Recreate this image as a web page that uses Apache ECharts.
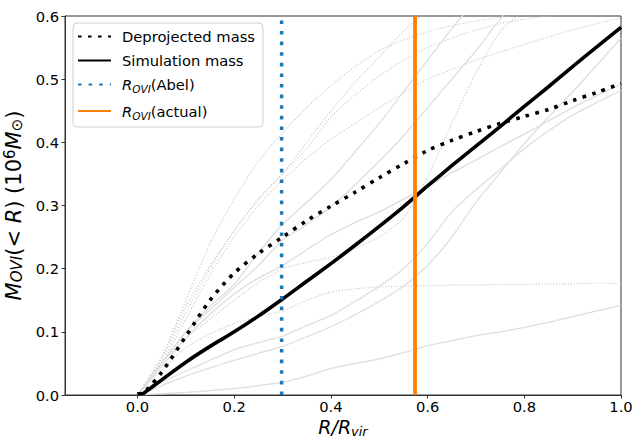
<!DOCTYPE html>
<html>
<head>
<meta charset="utf-8">
<script src="https://cdn.jsdelivr.net/npm/echarts@6/dist/echarts.min.js"></script>
<style>html,body{margin:0;padding:0;background:#fff}#c{width:635px;height:439px}</style>
</head>
<body>
<div id="c"></div>
<script>
// ---- data ----
const blackR = [0,0.01,0.02,0.05,0.1,0.15,0.2,0.25,0.3,0.35,0.4,0.45,0.5,0.55,0.6,0.65,0.7,0.75,0.8,0.85,0.9,0.95,1.0];
const simulationMass = [0.002,0.002,0.007,0.024,0.052,0.077,0.100,0.125,0.152,0.180,0.208,0.237,0.267,0.298,0.331,0.363,0.394,0.425,0.457,0.488,0.520,0.551,0.582];
const deprojectedMass = [0.002,0.003,0.009,0.036,0.093,0.150,0.193,0.224,0.250,0.276,0.299,0.321,0.344,0.366,0.387,0.403,0.417,0.430,0.441,0.452,0.466,0.479,0.493];

const grayR = [0,0.05,0.1,0.15,0.2,0.25,0.3,0.35,0.4,0.45,0.5,0.55,0.6,0.65,0.7,0.75,0.8,0.85,0.9,0.95,1.0];
const graySolidA = [0,0.002,0.004,0.007,0.010,0.015,0.020,0.030,0.042,0.050,0.057,0.067,0.078,0.086,0.094,0.100,0.107,0.115,0.124,0.133,0.142];
const graySolidB = [0,0.015,0.030,0.043,0.055,0.066,0.077,0.092,0.108,0.127,0.148,0.172,0.205,0.250,0.305,0.352,0.398,0.440,0.480,0.522,0.565];
const graySolidC = [0,0.020,0.038,0.055,0.072,0.083,0.093,0.110,0.126,0.148,0.172,0.200,0.240,0.290,0.325,0.357,0.390,0.418,0.443,0.463,0.482];
const graySolidD = [0,0.045,0.090,0.128,0.160,0.185,0.205,0.230,0.254,0.273,0.290,0.310,0.330,0.352,0.372,0.393,0.413,0.434,0.455,0.474,0.492];
const graySolidE = [0,0.050,0.100,0.135,0.170,0.205,0.245,0.270,0.298,0.333,0.370,0.410,0.455,0.500,0.545,0.595,0.640,null,null,null,null];
const graySolidF = [0,0.050,0.100,0.140,0.175,0.225,0.270,0.305,0.341,0.385,0.430,0.480,0.530,0.580,0.625,null,null,null,null,null,null];
const grayDottedA = [0,0.060,0.150,0.240,0.310,0.370,0.415,0.455,0.490,0.520,0.545,0.562,0.575,0.585,0.592,0.598,0.603,null,null,null,null];
const grayDottedB = [0,0.050,0.120,0.190,0.250,0.300,0.340,0.375,0.405,0.430,0.455,0.478,0.500,0.515,0.530,0.543,0.555,0.567,0.578,0.588,0.597];
const grayDottedC = [0,0.060,0.140,0.205,0.260,0.310,0.350,0.400,0.450,0.495,0.535,0.575,0.610,null,null,null,null,null,null,null,null];
const grayDottedD = [0,0.050,0.090,0.120,0.150,0.178,0.200,0.210,0.218,0.232,0.250,0.280,0.345,0.430,0.510,0.575,0.610,null,null,null,null];
const grayDottedE = [0,0.040,0.075,0.097,0.113,0.124,0.133,0.150,0.163,0.168,0.171,0.172,0.173,0.174,0.174,0.175,0.175,0.176,0.176,0.177,0.177];
const grayDottedF = [0,0.055,0.130,0.200,0.260,0.310,0.350,0.390,0.440,0.475,0.505,0.530,0.550,0.565,0.578,0.588,0.595,0.600,0.605,null,null];

const abelRadius = 0.298;
const actualRadius = 0.574;

const xTicks = [0,0.2,0.4,0.6,0.8,1.0];
const xMin = -0.15, xMax = 1.0;
const yMin = 0, yMax = 0.6, yStep = 0.1;

// ---- build ----
const FONT = 'DejaVu Sans';
const zip = (xs, ys) => xs.map((x, i) => [x, ys[i]]);

const graySolids = [graySolidA, graySolidB, graySolidC, graySolidD, graySolidE, graySolidF];
const grayDotteds = [grayDottedA, grayDottedB, grayDottedC, grayDottedD, grayDottedE, grayDottedF];

const series = [];
grayDotteds.forEach((ys, i) => series.push({
  name: 'gd' + i, type: 'line', data: zip(grayR, ys), symbol: 'none', silent: true, z: 1, smooth: 0.2,
  lineStyle: { color: '#c6c6c6', width: 1.1, type: [1.1, 1.8], cap: 'butt' }
}));
graySolids.forEach((ys, i) => series.push({
  name: 'gs' + i, type: 'line', data: zip(grayR, ys), symbol: 'none', silent: true, z: 1, smooth: 0.2,
  lineStyle: { color: '#dedede', width: 1.3 }
}));
series.push({
  name: 'Deprojected mass', type: 'line', data: zip(blackR, deprojectedMass), symbol: 'none', z: 3, smooth: 0.3,
  itemStyle: { color: '#000' },
  lineStyle: { color: '#000', width: 3.6, type: [3.6, 6.4], cap: 'butt' }
});
series.push({
  name: 'Simulation mass', type: 'line', data: zip(blackR, simulationMass), symbol: 'none', z: 3, smooth: 0.3,
  itemStyle: { color: '#000' },
  lineStyle: { color: '#000', width: 3.6 }
});
series.push({
  name: 'Abel', type: 'line', data: [[abelRadius, yMin], [abelRadius, yMax]], symbol: 'none', z: 4,
  itemStyle: { color: '#1f77b4' },
  lineStyle: { color: '#1f77b4', width: 3.5, type: [3.6, 7], cap: 'butt' }
});
series.push({
  name: 'actual', type: 'line', data: [[actualRadius, yMin], [actualRadius, yMax]], symbol: 'none', z: 4,
  itemStyle: { color: '#ff7f0e' },
  lineStyle: { color: '#ff7f0e', width: 3.8 }
});

const legendText = {
  'Deprojected mass': '{sp|}{n|Deprojected mass}',
  'Simulation mass': '{sp|}{n|Simulation mass}',
  'Abel': '{sp|}{i|R}{s|OVI}{n|(Abel)}',
  'actual': '{sp|}{i|R}{s|OVI}{n|(actual)}'
};

const chart = echarts.init(document.getElementById('c'), null, { renderer: 'svg' });
chart.setOption({
  animation: false,
  backgroundColor: '#fff',
  grid: { left: 65, top: 16, right: 14, bottom: 44, show: true, borderColor: '#333', borderWidth: 1, containLabel: false, outerBoundsMode: 'none' },
  legend: {
    data: ['Deprojected mass', 'Simulation mass', 'Abel', 'actual'],
    orient: 'vertical', left: 73, top: 23,
    itemWidth: 33, itemHeight: 14, itemGap: 9,
    padding: [6, 8, 6, 4],
    itemStyle: { opacity: 0 },
    backgroundColor: 'rgba(255,255,255,0.8)', borderColor: '#d0d0d0', borderWidth: 1, borderRadius: 4,
    formatter: name => legendText[name],
    textStyle: {
      fontFamily: FONT, fontSize: 14.7, color: '#000',
      rich: {
        sp: { width: 6, fontSize: 14.7 },
        n: { fontFamily: FONT, fontSize: 14.7, color: '#000', lineHeight: 20 },
        i: { fontFamily: FONT, fontSize: 14.7, fontStyle: 'italic', color: '#000', lineHeight: 20 },
        s: { fontFamily: FONT, fontSize: 10.5, fontStyle: 'italic', color: '#000', verticalAlign: 'bottom' }
      }
    }
  },
  xAxis: {
    type: 'value', min: xMin, max: xMax,
    name: '{i|R/R}{s|vir}', nameLocation: 'middle', nameGap: 21, nameMoveOverlap: false,
    nameTextStyle: {
      fontFamily: FONT, fontSize: 19, color: '#000',
      rich: {
        i: { fontFamily: FONT, fontSize: 19, fontStyle: 'italic', color: '#000', lineHeight: 22 },
        s: { fontFamily: FONT, fontSize: 13, fontStyle: 'italic', color: '#000', verticalAlign: 'bottom' }
      }
    },
    axisLine: { show: true, onZero: false, lineStyle: { color: '#333', width: 1 } },
    axisTick: { show: true, length: 3.5, customValues: xTicks, lineStyle: { color: '#333' } },
    axisLabel: { customValues: xTicks, formatter: v => v.toFixed(1), fontFamily: FONT, fontSize: 14.7, lineHeight: 15, color: '#000', margin: 4 },
    splitLine: { show: false }
  },
  yAxis: {
    type: 'value', min: yMin, max: yMax, interval: yStep,
    name: '{i|M}{s|OVI}{n|(< }{i|R}{n|) (10}{p|6}{i|M}{s|⊙}{n|)}',
    nameLocation: 'middle', nameGap: 28,
    nameTextStyle: {
      fontFamily: FONT, fontSize: 21, color: '#000',
      rich: {
        n: { fontFamily: FONT, fontSize: 21, color: '#000', lineHeight: 22 },
        i: { fontFamily: FONT, fontSize: 21, fontStyle: 'italic', color: '#000', lineHeight: 22 },
        s: { fontFamily: FONT, fontSize: 15, fontStyle: 'italic', color: '#000', verticalAlign: 'bottom' },
        p: { fontFamily: FONT, fontSize: 15, color: '#000', verticalAlign: 'top' }
      }
    },
    axisLine: { show: true, onZero: false, lineStyle: { color: '#333', width: 1 } },
    axisTick: { show: true, length: 3.5, lineStyle: { color: '#333' } },
    axisLabel: { formatter: v => v.toFixed(1), fontFamily: FONT, fontSize: 14.7, color: '#000', margin: 6 },
    splitLine: { show: false }
  },
  series: series
});
</script>
</body>
</html>
